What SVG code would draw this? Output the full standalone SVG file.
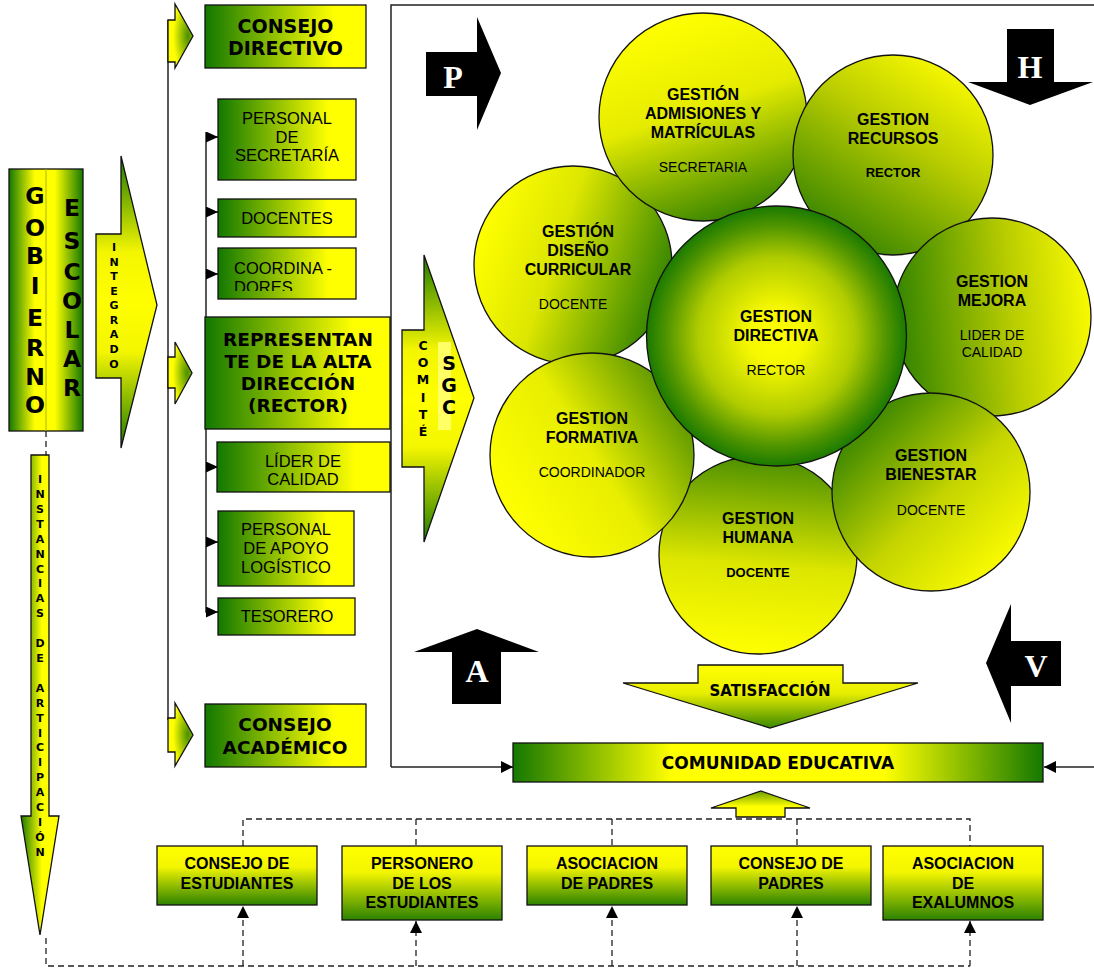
<svg xmlns="http://www.w3.org/2000/svg" width="1094" height="970" viewBox="0 0 1094 970">
  <defs>
    <style>
      .stk { stroke: #111; stroke-width: 1.3; }
      .ln { stroke: #222; stroke-width: 1.5; fill: none; }
      .dash { stroke: #222; stroke-width: 1.3; fill: none; stroke-dasharray: 6 4; }
      .vb { font-family: "DejaVu Sans", Verdana, sans-serif; font-weight: bold; fill: #000; text-anchor: middle; }
      .ab { font-family: "Liberation Sans", Arial, sans-serif; font-weight: bold; fill: #000; text-anchor: middle; }
      .ar { font-family: "Liberation Sans", Arial, sans-serif; fill: #000; text-anchor: middle; }
      .al { font-family: "Liberation Sans", Arial, sans-serif; fill: #000; text-anchor: start; }
      .pl { font-family: "Liberation Serif", "Times New Roman", serif; font-weight: bold; fill: #fff; text-anchor: middle; font-size: 32px; }
    </style>
    <linearGradient id="gBox" x1="0" y1="0" x2="1" y2="0">
      <stop offset="0" stop-color="#127800"/>
      <stop offset="0.8" stop-color="#ffff00"/>
      <stop offset="1" stop-color="#ffff00"/>
    </linearGradient>
    <linearGradient id="gBottom" x1="0" y1="0" x2="0" y2="1">
      <stop offset="0" stop-color="#ffff00"/>
      <stop offset="0.35" stop-color="#f4f600"/>
      <stop offset="1" stop-color="#2c8200"/>
    </linearGradient>
    <linearGradient id="gGob" x1="0" y1="0" x2="1" y2="0">
      <stop offset="0" stop-color="#157800"/>
      <stop offset="0.35" stop-color="#ffff00"/>
      <stop offset="0.62" stop-color="#ffff00"/>
      <stop offset="1" stop-color="#157800"/>
    </linearGradient>
    <linearGradient id="gVert" x1="0" y1="0" x2="0" y2="1">
      <stop offset="0" stop-color="#1e7a00"/>
      <stop offset="0.33" stop-color="#f4f600"/>
      <stop offset="0.5" stop-color="#ffff00"/>
      <stop offset="0.67" stop-color="#f4f600"/>
      <stop offset="1" stop-color="#1e7a00"/>
    </linearGradient>
    <linearGradient id="gInst" x1="0" y1="0" x2="1" y2="0">
      <stop offset="0" stop-color="#1e7a00"/>
      <stop offset="0.55" stop-color="#ffff00"/>
      <stop offset="1" stop-color="#ffff00"/>
    </linearGradient>
    <radialGradient id="gSmall" cx="0.8" cy="0.5" r="0.6">
      <stop offset="0" stop-color="#4a8f00"/>
      <stop offset="1" stop-color="#ffff00"/>
    </radialGradient>
    <linearGradient id="gComu" x1="0" y1="0" x2="1" y2="0">
      <stop offset="0" stop-color="#157800"/>
      <stop offset="0.3" stop-color="#ffff00"/>
      <stop offset="0.7" stop-color="#ffff00"/>
      <stop offset="1" stop-color="#157800"/>
    </linearGradient>
    <linearGradient id="gSat" x1="0" y1="0" x2="0" y2="1">
      <stop offset="0" stop-color="#ffff00"/>
      <stop offset="0.45" stop-color="#e8ee00"/>
      <stop offset="1" stop-color="#3a8800"/>
    </linearGradient>
    <linearGradient id="gUp" x1="0" y1="0" x2="0" y2="1">
      <stop offset="0" stop-color="#6a9e00"/>
      <stop offset="0.6" stop-color="#ffff00"/>
      <stop offset="1" stop-color="#ffff00"/>
    </linearGradient>
    <radialGradient id="gCenter" cx="0.5" cy="0.5" r="0.5">
      <stop offset="0" stop-color="#ffff00"/>
      <stop offset="0.22" stop-color="#f6f800"/>
      <stop offset="0.6" stop-color="#b0cc00"/>
      <stop offset="0.85" stop-color="#4f9400"/>
      <stop offset="1" stop-color="#1a7a00"/>
    </radialGradient>
    <!-- petal gradients: green toward the centre circle, yellow outward -->
    <linearGradient id="gAdm" x1="0.342" y1="0.026" x2="0.658" y2="0.974">
      <stop offset="0" stop-color="#ffff00"/><stop offset="0.45" stop-color="#e6ec00"/><stop offset="1" stop-color="#3a8600"/>
    </linearGradient>
    <linearGradient id="gRec" x1="0.771" y1="0.08" x2="0.229" y2="0.92">
      <stop offset="0" stop-color="#f4f600"/><stop offset="0.4" stop-color="#b8cc00"/><stop offset="1" stop-color="#3a8600"/>
    </linearGradient>
    <linearGradient id="gDis" x1="0.028" y1="0.335" x2="0.972" y2="0.665">
      <stop offset="0" stop-color="#ffff00"/><stop offset="0.4" stop-color="#dce600"/><stop offset="1" stop-color="#2f8200"/>
    </linearGradient>
    <linearGradient id="gMej" x1="0.998" y1="0.456" x2="0.002" y2="0.544">
      <stop offset="0" stop-color="#f8fa00"/><stop offset="0.4" stop-color="#b8cc00"/><stop offset="1" stop-color="#2f8200"/>
    </linearGradient>
    <linearGradient id="gFor" x1="0.08" y1="0.771" x2="0.92" y2="0.229">
      <stop offset="0" stop-color="#ffff00"/><stop offset="0.5" stop-color="#e8ee00"/><stop offset="1" stop-color="#5a9600"/>
    </linearGradient>
    <linearGradient id="gBie" x1="0.852" y1="0.855" x2="0.148" y2="0.145">
      <stop offset="0" stop-color="#f8fa00"/><stop offset="0.45" stop-color="#c4d400"/><stop offset="1" stop-color="#3a8600"/>
    </linearGradient>
    <linearGradient id="gHum" x1="0.459" y1="0.998" x2="0.541" y2="0.002">
      <stop offset="0" stop-color="#ffff00"/><stop offset="0.45" stop-color="#dce600"/><stop offset="1" stop-color="#4a8e00"/>
    </linearGradient>
    <marker id="tri" markerUnits="userSpaceOnUse" markerWidth="12" markerHeight="11" refX="12" refY="5.5" orient="auto">
      <path d="M0,0 L12,5.5 L0,11 z" fill="#000"/>
    </marker>
    <marker id="triS" markerUnits="userSpaceOnUse" markerWidth="12" markerHeight="12" refX="12" refY="6" orient="auto">
      <path d="M0,0 L12,6 L0,12 z" fill="#000"/>
    </marker>
    <clipPath id="clipCoord">
      <rect x="219" y="249" width="136" height="42"/>
    </clipPath>
  </defs>

  <rect width="1094" height="970" fill="#fff"/>

  <!-- connector lines -->
  <g id="connectors">
    <!-- frame around the management circle -->
    <polyline class="ln" points="1094,5 391,5 391,767"/>
    <line class="ln" x1="391" y1="767" x2="513" y2="767" marker-end="url(#triS)"/>
    <line class="ln" x1="1094" y1="767" x2="1044" y2="767" marker-end="url(#triS)"/>
    <!-- outer trunk -->
    <line class="ln" x1="168" y1="20" x2="168" y2="720"/>
    <!-- inner trunk with branches -->
    <polyline class="ln" points="206,132 206,612 212,612"/>
    <line class="ln" x1="206" y1="137" x2="218" y2="137" marker-end="url(#tri)"/>
    <line class="ln" x1="206" y1="212" x2="218" y2="212" marker-end="url(#tri)"/>
    <line class="ln" x1="206" y1="274" x2="218" y2="274" marker-end="url(#tri)"/>
    <line class="ln" x1="206" y1="467" x2="218" y2="467" marker-end="url(#tri)"/>
    <line class="ln" x1="206" y1="542" x2="218" y2="542" marker-end="url(#tri)"/>
    <line class="ln" x1="206" y1="612" x2="218" y2="612" marker-end="url(#tri)"/>
    <!-- participation links -->
    <line class="dash" x1="46" y1="431" x2="46" y2="455"/>
    <polyline class="dash" points="46,938 46,966 970,966"/>
    <polyline class="dash" points="243,846 243,819 970,819 970,846"/>
    <line class="dash" x1="416" y1="819" x2="416" y2="846"/>
    <line class="dash" x1="612" y1="819" x2="612" y2="846"/>
    <line class="dash" x1="797" y1="819" x2="797" y2="846"/>
    <line class="dash" x1="243" y1="966" x2="243" y2="906" marker-end="url(#triS)"/>
    <line class="dash" x1="416" y1="966" x2="416" y2="921" marker-end="url(#triS)"/>
    <line class="dash" x1="612" y1="966" x2="612" y2="906" marker-end="url(#triS)"/>
    <line class="dash" x1="797" y1="966" x2="797" y2="906" marker-end="url(#triS)"/>
    <line class="dash" x1="970" y1="966" x2="970" y2="921" marker-end="url(#triS)"/>
  </g>

  <!-- Gobierno escolar column -->
  <g id="gobierno">
    <rect x="9" y="169" width="74" height="262" fill="url(#gGob)" class="stk"/>
    <line x1="46" y1="169" x2="46" y2="431" stroke="#b4b400" stroke-width="1"/>
    <g class="vb" font-size="23.5">
      <text x="35" y="204">G</text><text x="35" y="236">O</text><text x="35" y="264">B</text>
      <text x="35" y="294">I</text><text x="35" y="326">E</text><text x="35" y="356">R</text>
      <text x="35" y="385">N</text><text x="35" y="413">O</text>
      <text x="72" y="216">E</text><text x="72" y="249">S</text><text x="72" y="280">C</text>
      <text x="72" y="309">O</text><text x="72" y="338">L</text><text x="72" y="367">A</text>
      <text x="72" y="396">R</text>
    </g>
  </g>

  <g id="integrado">
    <polygon points="96,234 121,234 121,156 157,305 121,448 121,378 96,378" fill="url(#gVert)" class="stk"/>
    <text class="vb" font-size="11"><tspan x="114" y="251">I</tspan><tspan x="114" y="266">N</tspan><tspan x="114" y="280">T</tspan><tspan x="114" y="295">E</tspan><tspan x="114" y="309">G</tspan><tspan x="114" y="324">R</tspan><tspan x="114" y="338">A</tspan><tspan x="114" y="353">D</tspan><tspan x="114" y="368">O</tspan></text>
  </g>

  <g id="instancias">
    <polygon points="31,455 49,455 49,816 59,816 40,935 21,816 31,816" fill="url(#gInst)" class="stk"/>
    <text class="vb" font-size="11"><tspan x="40" y="483">I</tspan><tspan x="40" y="498">N</tspan><tspan x="40" y="513">S</tspan><tspan x="40" y="528">T</tspan><tspan x="40" y="543">A</tspan><tspan x="40" y="558">N</tspan><tspan x="40" y="573">C</tspan><tspan x="40" y="587">I</tspan><tspan x="40" y="602">A</tspan><tspan x="40" y="617">S</tspan><tspan x="40" y="647">D</tspan><tspan x="40" y="662">E</tspan><tspan x="40" y="692">A</tspan><tspan x="40" y="707">R</tspan><tspan x="40" y="722">T</tspan><tspan x="40" y="737">I</tspan><tspan x="40" y="751">C</tspan><tspan x="40" y="766">I</tspan><tspan x="40" y="781">P</tspan><tspan x="40" y="796">A</tspan><tspan x="40" y="811">C</tspan><tspan x="40" y="826">I</tspan><tspan x="40" y="841">Ó</tspan><tspan x="40" y="856">N</tspan></text>
  </g>

  <!-- feed arrows on the outer trunk -->
  <g id="feed-arrows">
    <polygon points="168,20 175,20 175,4 193,36 175,68 175,62 168,62" fill="url(#gSmall)" class="stk"/>
    <polygon points="168,357 175,357 175,342 192,373 175,404 175,388 168,388" fill="url(#gSmall)" class="stk"/>
    <polygon points="168,718 175,718 175,703 193,735 175,766 175,752 168,752" fill="url(#gSmall)" class="stk"/>
  </g>

  <g id="consejo-directivo">
    <rect x="205" y="5" width="161" height="63" fill="url(#gBox)" class="stk"/>
    <text class="vb" font-size="19" x="285.5" y="33">CONSEJO</text>
    <text class="vb" font-size="19" x="285.5" y="55">DIRECTIVO</text>
  </g>

  <g id="secretaria">
    <rect x="218" y="99" width="138" height="81" fill="url(#gBox)" class="stk"/>
    <text class="ar" font-size="16.5" x="287" y="124">PERSONAL</text>
    <text class="ar" font-size="16.5" x="287" y="143">DE</text>
    <text class="ar" font-size="16.5" x="287" y="161">SECRETARÍA</text>
  </g>

  <g id="docentes">
    <rect x="218" y="199" width="138" height="38" fill="url(#gBox)" class="stk"/>
    <text class="ar" font-size="16.5" x="287" y="224">DOCENTES</text>
  </g>

  <g id="coordinadores">
    <rect x="218" y="248" width="138" height="51" fill="url(#gBox)" class="stk"/>
    <g clip-path="url(#clipCoord)">
      <text class="al" font-size="16.5" x="234" y="274">COORDINA -</text>
      <text class="al" font-size="16.5" x="234" y="293">DORES</text>
    </g>
  </g>

  <g id="representante">
    <rect x="205" y="317" width="185" height="112" fill="url(#gBox)" class="stk"/>
    <text class="vb" font-size="18.5" x="298" y="346">REPRESENTAN</text>
    <text class="vb" font-size="18.5" x="298" y="368">TE DE LA ALTA</text>
    <text class="vb" font-size="18.5" x="298" y="390">DIRECCIÓN</text>
    <text class="vb" font-size="18.5" x="298" y="412">(RECTOR)</text>
  </g>

  <g id="lider-calidad">
    <rect x="217" y="442" width="173" height="50" fill="url(#gBox)" class="stk"/>
    <text class="ar" font-size="16.5" x="303" y="467">LÍDER DE</text>
    <text class="ar" font-size="16.5" x="303" y="485">CALIDAD</text>
  </g>

  <g id="apoyo-logistico">
    <rect x="218" y="511" width="136" height="75" fill="url(#gBox)" class="stk"/>
    <text class="ar" font-size="16.5" x="286" y="535">PERSONAL</text>
    <text class="ar" font-size="16.5" x="286" y="554">DE APOYO</text>
    <text class="ar" font-size="16.5" x="286" y="573">LOGÍSTICO</text>
  </g>

  <g id="tesorero">
    <rect x="218" y="598" width="137" height="37" fill="url(#gBox)" class="stk"/>
    <text class="ar" font-size="16.5" x="287" y="622">TESORERO</text>
  </g>

  <g id="consejo-academico">
    <rect x="205" y="704" width="161" height="63" fill="url(#gBox)" class="stk"/>
    <text class="vb" font-size="18.5" x="285" y="731">CONSEJO</text>
    <text class="vb" font-size="18.5" x="285" y="754">ACADÉMICO</text>
  </g>

  <g id="comite-sgc">
    <polygon points="402,330 424,330 424,255 474,398 424,542 424,467 402,467" fill="url(#gVert)" class="stk"/>
    <rect x="438" y="342" width="13" height="88" fill="#ffff66"/>
    <text class="vb" font-size="12.5"><tspan x="423" y="350">C</tspan><tspan x="423" y="367">O</tspan><tspan x="423" y="384">M</tspan><tspan x="423" y="402">I</tspan><tspan x="423" y="419">T</tspan><tspan x="423" y="436">É</tspan></text>
    <text class="vb" font-size="19"><tspan x="449" y="370">S</tspan><tspan x="449" y="392">G</tspan><tspan x="449" y="414">C</tspan></text>
  </g>

  <!-- PHVA cycle arrows -->
  <g id="phva-p">
    <polygon points="426,52 477,52 477,17 501,73 477,130 477,96 426,96" fill="#000"/>
    <text class="pl" x="453" y="88">P</text>
  </g>
  <g id="phva-h">
    <polygon points="1007,29 1054,29 1054,82 1093,82 1030,105 968,82 1007,82" fill="#000"/>
    <text class="pl" x="1030" y="78">H</text>
  </g>
  <g id="phva-a">
    <polygon points="477,629 539,652 501,652 501,704 452,704 452,652 414,652" fill="#000"/>
    <text class="pl" x="477" y="682">A</text>
  </g>
  <g id="phva-v">
    <polygon points="986,663 1011,604 1011,641 1061,641 1061,686 1011,686 1011,723" fill="#000"/>
    <text class="pl" x="1036" y="677">V</text>
  </g>

  <!-- management circles -->
  <g id="gestion-diseno">
    <circle cx="573" cy="265" r="99" fill="url(#gDis)" class="stk"/>
    <text class="ab" font-size="16" x="578" y="237">GESTIÓN</text>
    <text class="ab" font-size="16" x="578" y="256">DISEÑO</text>
    <text class="ab" font-size="16" x="578" y="275">CURRICULAR</text>
    <text class="ar" font-size="14" x="573" y="309">DOCENTE</text>
  </g>
  <g id="gestion-admisiones">
    <circle cx="703" cy="117" r="104" fill="url(#gAdm)" class="stk"/>
    <text class="ab" font-size="16" x="703" y="100">GESTIÓN</text>
    <text class="ab" font-size="16" x="703" y="119">ADMISIONES Y</text>
    <text class="ab" font-size="16" x="703" y="138">MATRÍCULAS</text>
    <text class="ar" font-size="14" x="703" y="172">SECRETARIA</text>
  </g>
  <g id="gestion-recursos">
    <circle cx="893" cy="155" r="100" fill="url(#gRec)" class="stk"/>
    <text class="ab" font-size="16" x="893" y="125">GESTION</text>
    <text class="ab" font-size="16" x="893" y="144">RECURSOS</text>
    <text class="ab" font-size="13" x="893" y="177">RECTOR</text>
  </g>
  <g id="gestion-mejora">
    <circle cx="992" cy="317" r="99" fill="url(#gMej)" class="stk"/>
    <text class="ab" font-size="16" x="992" y="287">GESTION</text>
    <text class="ab" font-size="16" x="992" y="306">MEJORA</text>
    <text class="ar" font-size="14" x="992" y="340">LIDER DE</text>
    <text class="ar" font-size="14" x="992" y="357">CALIDAD</text>
  </g>
  <g id="gestion-humana">
    <circle cx="758" cy="555" r="99" fill="url(#gHum)" class="stk"/>
    <text class="ab" font-size="16" x="758" y="524">GESTION</text>
    <text class="ab" font-size="16" x="758" y="543">HUMANA</text>
    <text class="ab" font-size="13" x="758" y="577">DOCENTE</text>
  </g>
  <g id="gestion-bienestar">
    <circle cx="931" cy="492" r="99" fill="url(#gBie)" class="stk"/>
    <text class="ab" font-size="16" x="931" y="461">GESTION</text>
    <text class="ab" font-size="16" x="931" y="480">BIENESTAR</text>
    <text class="ar" font-size="14" x="931" y="515">DOCENTE</text>
  </g>
  <g id="gestion-formativa">
    <circle cx="592" cy="455" r="102" fill="url(#gFor)" class="stk"/>
    <text class="ab" font-size="16" x="592" y="424">GESTION</text>
    <text class="ab" font-size="16" x="592" y="443">FORMATIVA</text>
    <text class="ar" font-size="14" x="592" y="477">COORDINADOR</text>
  </g>
  <g id="gestion-directiva">
    <circle cx="776.5" cy="336" r="130" fill="url(#gCenter)" class="stk"/>
    <text class="ab" font-size="16" x="776" y="322">GESTION</text>
    <text class="ab" font-size="16" x="776" y="341">DIRECTIVA</text>
    <text class="ar" font-size="14" x="776" y="375">RECTOR</text>
  </g>

  <g id="satisfaccion">
    <polygon points="698,665 843,665 843,683 918,683 770,728 623,683 698,683" fill="url(#gSat)" class="stk"/>
    <text class="vb" font-size="15" x="770" y="696">SATISFACCIÓN</text>
  </g>

  <g id="comunidad">
    <rect x="513" y="743" width="530" height="39" fill="url(#gComu)" class="stk"/>
    <text class="vb" font-size="17" x="778" y="769">COMUNIDAD EDUCATIVA</text>
  </g>

  <g id="aporte">
    <polygon points="761,791 810,808 785,808 785,817 736,817 736,808 711,808" fill="url(#gUp)" class="stk"/>
  </g>

  <!-- participation bodies -->
  <g id="consejo-estudiantes">
    <rect x="157" y="846" width="160" height="59" fill="url(#gBottom)" class="stk"/>
    <text class="ab" font-size="16" x="237" y="869">CONSEJO DE</text>
    <text class="ab" font-size="16" x="237" y="889">ESTUDIANTES</text>
  </g>
  <g id="personero">
    <rect x="342" y="846" width="160" height="74" fill="url(#gBottom)" class="stk"/>
    <text class="ab" font-size="16" x="422" y="869">PERSONERO</text>
    <text class="ab" font-size="16" x="422" y="889">DE LOS</text>
    <text class="ab" font-size="16" x="422" y="908">ESTUDIANTES</text>
  </g>
  <g id="asociacion-padres">
    <rect x="527" y="846" width="160" height="59" fill="url(#gBottom)" class="stk"/>
    <text class="ab" font-size="16" x="607" y="869">ASOCIACION</text>
    <text class="ab" font-size="16" x="607" y="889">DE PADRES</text>
  </g>
  <g id="consejo-padres">
    <rect x="711" y="846" width="160" height="59" fill="url(#gBottom)" class="stk"/>
    <text class="ab" font-size="16" x="791" y="869">CONSEJO DE</text>
    <text class="ab" font-size="16" x="791" y="889">PADRES</text>
  </g>
  <g id="exalumnos">
    <rect x="883" y="846" width="160" height="74" fill="url(#gBottom)" class="stk"/>
    <text class="ab" font-size="16" x="963" y="869">ASOCIACION</text>
    <text class="ab" font-size="16" x="963" y="889">DE</text>
    <text class="ab" font-size="16" x="963" y="908">EXALUMNOS</text>
  </g>
</svg>
